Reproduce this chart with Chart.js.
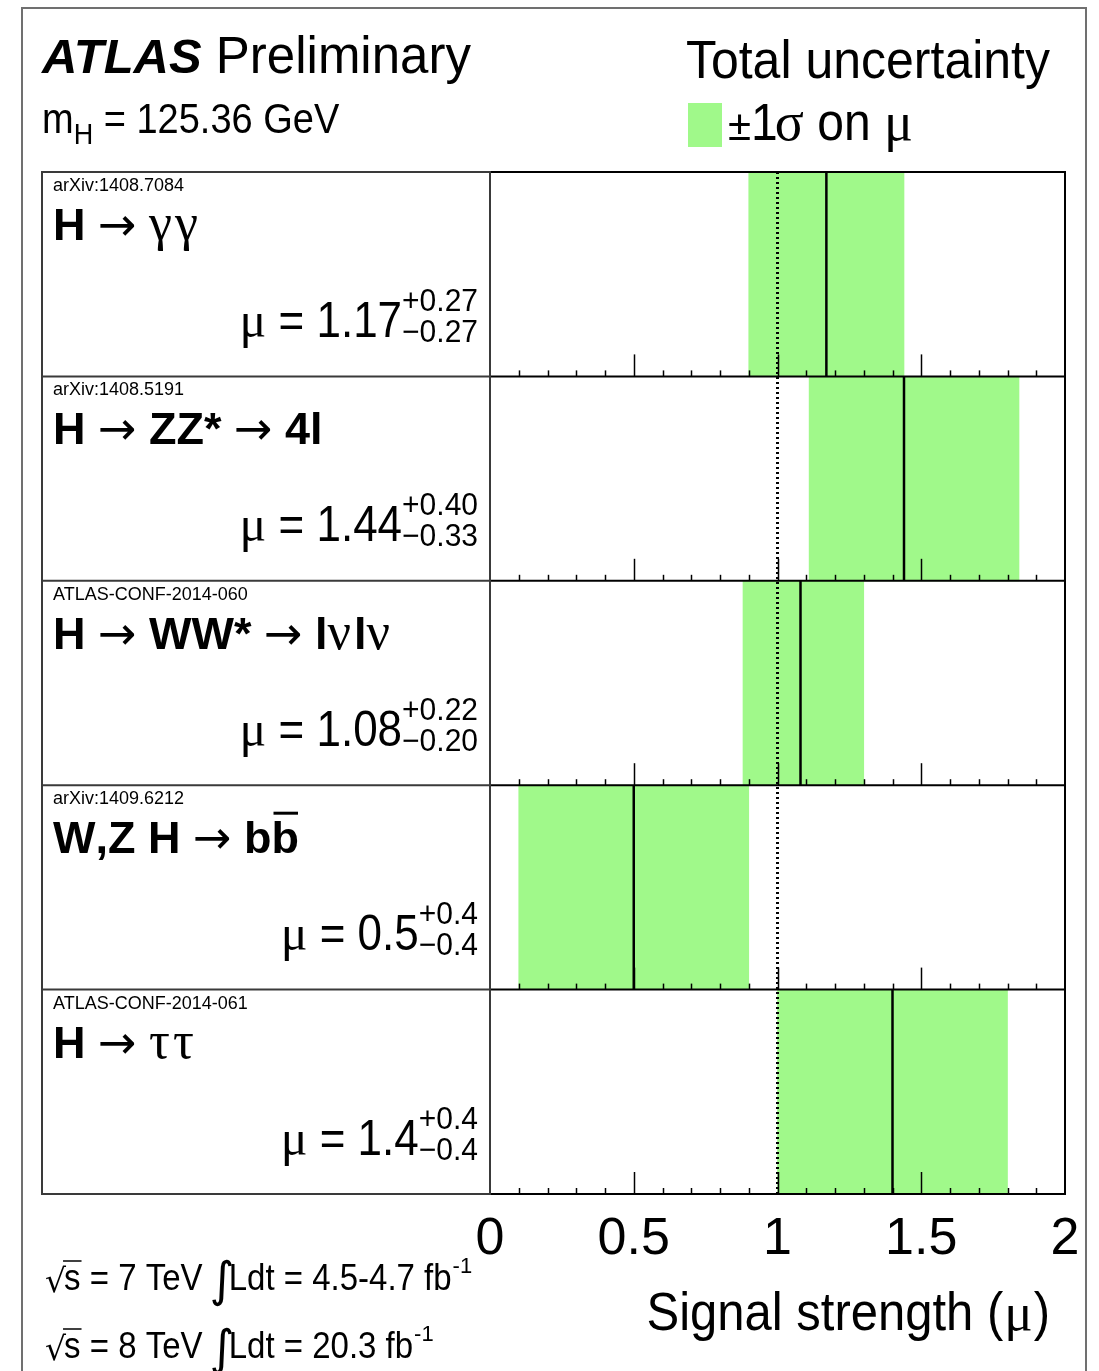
<!DOCTYPE html>
<html>
<head>
<meta charset="utf-8">
<title>Signal strength summary</title>
<script src="https://cdn.jsdelivr.net/npm/chart.js@4/dist/chart.umd.min.js"></script>
<style>
  html, body { margin: 0; padding: 0; background: #ffffff; }
  canvas { display: block; }
</style>
</head>
<body>
<canvas id="chart" width="1099" height="1371"></canvas>
<script>
// Channels, top to bottom
const channels = ['H → γγ', 'H → ZZ* → 4l', 'H → WW* → lνlν', 'W,Z H → bb\u0304', 'H → ττ'];
const references = ['arXiv:1408.7084', 'arXiv:1408.5191', 'ATLAS-CONF-2014-060', 'arXiv:1409.6212', 'ATLAS-CONF-2014-061'];
// Best-fit signal strength and its total uncertainty
const muValues = [1.17, 1.44, 1.08, 0.5, 1.4];
const errUp    = [0.27, 0.40, 0.22, 0.4, 0.4];
const errDown  = [0.27, 0.33, 0.20, 0.4, 0.4];
const decimals = [2, 2, 2, 1, 1];
// Axis
const xMin = 0, xMax = 2, xStep = 0.5, minorStep = 0.1;
const smReference = 1;

const SANS = '"Liberation Sans", Arimo, Helvetica, Arial, sans-serif';
const SERIF = '"Liberation Serif", "DejaVu Serif", "Times New Roman", serif';
const SYM = '"DejaVu Sans", sans-serif';
const GREEN = 'rgb(160, 249, 138)';

// Draw text, optionally stretched vertically about its baseline
function txt(ctx, s, x, y, font, align, sy) {
  ctx.font = font;
  ctx.textAlign = align || 'left';
  ctx.textBaseline = 'alphabetic';
  if (sy && sy !== 1) {
    ctx.save();
    ctx.translate(x, y);
    ctx.scale(1, sy);
    ctx.fillText(s, 0, 0);
    ctx.restore();
  } else {
    ctx.fillText(s, x, y);
  }
  return ctx.measureText(s).width;
}
function width(ctx, s, font) { ctx.font = font; return ctx.measureText(s).width; }

// Split a channel name into glyph runs with their fonts
function channelRuns(name) {
  const runs = [];
  for (const ch of Array.from(name)) {
    if (ch === '\u0304') { runs[runs.length - 1].bar = true; continue; }
    let f, gap = 0;
    if (/[α-ω]/.test(ch)) { f = `52px ${SERIF}`; gap = 3; }
    else if (ch === '→') f = `46px ${SYM}`;
    else f = `bold 45px ${SANS}`;
    runs.push({ t: ch, f: f, gap: gap });
  }
  return runs;
}
function drawRuns(ctx, runs, x, y) {
  for (const r of runs) {
    const w = txt(ctx, r.t, x, y, r.f);
    if (r.bar) {
      ctx.save();
      ctx.strokeStyle = '#000';
      ctx.lineWidth = 3;
      ctx.beginPath();
      ctx.moveTo(x + 2, y - 40);
      ctx.lineTo(x + w - 1, y - 40);
      ctx.stroke();
      ctx.restore();
    }
    x += w + r.gap;
  }
  return x;
}

function line(ctx, x1, y1, x2, y2) {
  ctx.beginPath(); ctx.moveTo(x1, y1); ctx.lineTo(x2, y2); ctx.stroke();
}

// Luminosity line:  √s = N TeV ∫Ldt = ... fb^-1
function lumiLine(ctx, x, y, energy, lumi) {
  ctx.fillStyle = '#000';
  const f = `33px ${SANS}`;
  let cx = x;
  cx += txt(ctx, '√', cx, y + 2, `33px ${SYM}`) - 2;
  const sw = txt(ctx, 's', cx, y, f, 'left', 1.1);
  ctx.save(); ctx.strokeStyle = '#000'; ctx.lineWidth = 1.5;
  line(ctx, cx - 1, y - 29, cx + sw + 1, y - 29); ctx.restore();
  cx += sw;
  cx += txt(ctx, ' = ' + energy + ' TeV ', cx, y, f, 'left', 1.1);
  cx += txt(ctx, '∫', cx - 2, y + 6, `48px ${SYM}`) - 8;
  cx += txt(ctx, 'Ldt = ' + lumi + ' fb', cx, y, f, 'left', 1.1);
  txt(ctx, '-1', cx + 1, y - 17, `22px ${SANS}`);
}

const layoutPlugin = {
  id: 'atlasLayout',
  beforeDraw(chart) {
    const ctx = chart.ctx;
    ctx.save();
    ctx.fillStyle = '#fff';
    ctx.fillRect(0, 0, chart.width, chart.height);
    // outer frame
    ctx.strokeStyle = '#707070';
    ctx.lineWidth = 2;
    ctx.strokeRect(22, 8, 1064, 1400);
    // header
    ctx.fillStyle = '#000';
    let x = 42;
    x += txt(ctx, 'ATLAS', x, 73, `italic bold 49px ${SANS}`);
    txt(ctx, ' Preliminary', x, 73, `51px ${SANS}`);
    x = 42;
    x += txt(ctx, 'm', x, 133, `38px ${SANS}`, 'left', 1.1);
    x += txt(ctx, 'H', x, 144, `27px ${SANS}`, 'left', 1.1);
    txt(ctx, ' = 125.36 GeV', x, 133, `38px ${SANS}`, 'left', 1.1);
    txt(ctx, 'Total uncertainty', 1050, 78, `50px ${SANS}`, 'right', 1.08);
    // legend
    ctx.fillStyle = GREEN;
    ctx.fillRect(688, 103, 34, 44);
    ctx.fillStyle = '#000';
    x = 728;
    x += txt(ctx, '±', x, 140, `42px ${SANS}`);
    x += txt(ctx, '1', x, 140, `48px ${SANS}`, 'left', 1.08) - 3;
    x += txt(ctx, 'σ', x, 140, `54px ${SERIF}`);
    x += txt(ctx, ' on ', x, 140, `48px ${SANS}`, 'left', 1.08);
    txt(ctx, 'μ', x, 140, `54px ${SERIF}`);
    ctx.restore();
  },
  afterDatasetsDraw(chart) {
    const ctx = chart.ctx;
    const area = chart.chartArea;
    const xs = chart.scales.x, ys = chart.scales.y;
    const n = channels.length;
    const rowH = (area.bottom - area.top) / n;
    const panelLeft = 42;
    ctx.save();

    // best-fit lines
    ctx.strokeStyle = '#000';
    ctx.lineWidth = 2.5;
    muValues.forEach((mu, i) => {
      const cy = ys.getPixelForValue(i);
      const px = xs.getPixelForValue(mu);
      line(ctx, px, cy - rowH / 2, px, cy + rowH / 2);
    });

    // tick marks along the bottom of every row
    ctx.lineWidth = 1.5;
    for (let i = 0; i < n; i++) {
      const yb = ys.getPixelForValue(i) + rowH / 2;
      const steps = Math.round((xMax - xMin) / minorStep);
      for (let k = 1; k < steps; k++) {
        const v = xMin + k * minorStep;
        const major = Math.abs(v / xStep - Math.round(v / xStep)) < 1e-6;
        const px = Math.round(xs.getPixelForValue(v)) + 0.5;
        line(ctx, px, yb, px, yb - (major ? 22 : 6));
      }
    }

    // Standard Model expectation
    ctx.lineWidth = 3;
    ctx.setLineDash([2, 3]);
    const smx = xs.getPixelForValue(smReference);
    line(ctx, smx, area.top, smx, area.bottom);
    ctx.setLineDash([]);

    // row separators and frames
    ctx.strokeStyle = '#000';
    ctx.lineWidth = 2;
    ctx.strokeRect(area.left, area.top, area.right - area.left, area.bottom - area.top);
    for (let i = 1; i < n; i++) {
      const yy = area.top + i * rowH;
      line(ctx, area.left, yy, area.right, yy);
    }
    ctx.strokeStyle = '#3a3a3a';
    ctx.lineWidth = 2;
    ctx.strokeRect(panelLeft, area.top, area.left - panelLeft, area.bottom - area.top);
    for (let i = 1; i < n; i++) {
      const yy = area.top + i * rowH;
      line(ctx, panelLeft, yy, area.left, yy);
    }

    // row labels
    ctx.fillStyle = '#000';
    for (let i = 0; i < n; i++) {
      const top = ys.getPixelForValue(i) - rowH / 2;
      txt(ctx, references[i], 53, top + 19, `18px ${SANS}`, 'left', 1.05);
      drawRuns(ctx, channelRuns(channels[i]), 53, top + 68);

      const d = decimals[i];
      const main = ' = ' + muValues[i].toFixed(d);
      const up = '+' + errUp[i].toFixed(d);
      const dn = '\u2212' + errDown[i].toFixed(d);
      const fMain = `44px ${SANS}`, fMu = `50px ${SERIF}`, fSm = `30px ${SANS}`;
      const wScript = Math.max(width(ctx, up, fSm), width(ctx, dn, fSm));
      const total = width(ctx, 'μ', fMu) + width(ctx, main, fMain) + wScript;
      let x = 478 - total;
      const base = top + 165;
      x += txt(ctx, 'μ', x, base, fMu);
      x += txt(ctx, main, x, base, fMain, 'left', 1.13);
      txt(ctx, up, x, top + 139, fSm, 'left', 1.05);
      txt(ctx, dn, x, top + 170, fSm, 'left', 1.05);
    }

    // axis title and luminosity
    const fT = `49px ${SANS}`, fTm = `53px ${SERIF}`;
    const wTail = width(ctx, 'μ', fTm) + width(ctx, ')', fT) + 2;
    txt(ctx, 'Signal strength (', 1050 - wTail, 1330, fT, 'right', 1.08);
    let tx = 1050 - wTail + 1;
    tx += txt(ctx, 'μ', tx, 1330, fTm) + 1;
    txt(ctx, ')', tx, 1330, fT, 'left', 1.08);
    lumiLine(ctx, 45, 1290, '7', '4.5-4.7');
    lumiLine(ctx, 45, 1358, '8', '20.3');
    ctx.restore();
  }
};

new Chart(document.getElementById('chart'), {
  type: 'bar',
  data: {
    labels: channels,
    datasets: [{
      label: '±1σ on μ',
      data: muValues.map((m, i) => [m - errDown[i], m + errUp[i]]),
      backgroundColor: GREEN,
      borderWidth: 0,
      barPercentage: 1,
      categoryPercentage: 1
    }]
  },
  options: {
    indexAxis: 'y',
    responsive: false,
    animation: false,
    devicePixelRatio: 1,
    layout: { padding: { left: 490, top: 172, right: 34, bottom: 0 } },
    plugins: { legend: { display: false }, tooltip: { enabled: false } },
    scales: {
      x: {
        type: 'linear', min: xMin, max: xMax, position: 'bottom',
        grid: { display: false, drawTicks: false },
        border: { display: false },
        ticks: {
          stepSize: xStep, autoSkip: false, maxRotation: 0, padding: 14,
          color: '#000', font: { family: SANS, size: 52 },
          callback: v => String(v)
        },
        afterFit: s => { s.height = 177; }
      },
      y: { display: false }
    }
  },
  plugins: [layoutPlugin]
});
</script>
</body>
</html>
